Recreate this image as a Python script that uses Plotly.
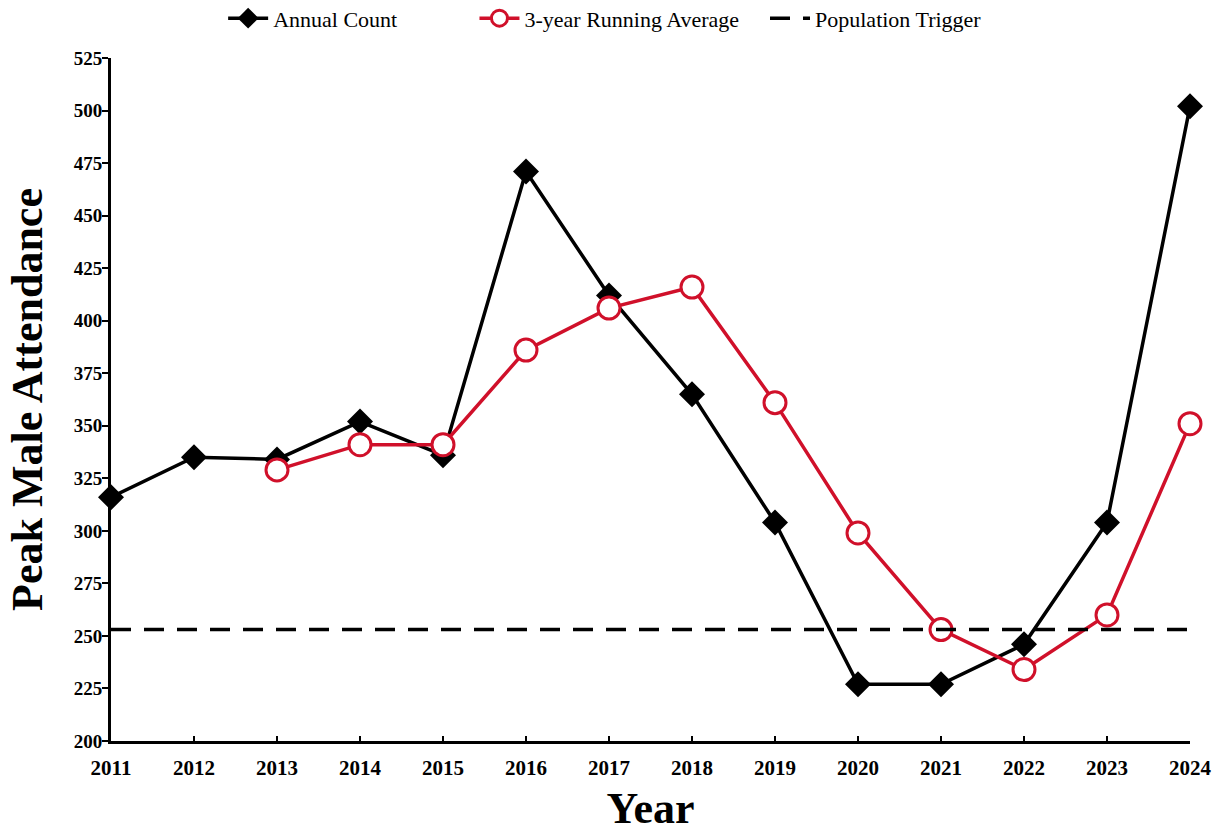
import plotly.graph_objects as go

years = list(range(2011, 2025))
annual_count = [316, 335, 334, 352, 336, 471, 412, 365, 304, 227, 227, 246, 304, 502]
avg_years = list(range(2013, 2025))
running_avg = [329, 341, 341, 386, 406, 416, 361, 299, 253, 234, 260, 351]
trigger_years = [2011, 2024]
trigger_level = [253, 253]
y_ticks = list(range(200, 526, 25))

serif = "Liberation Serif, Times New Roman, serif"

fig = go.Figure()

fig.add_trace(go.Scatter(
    x=years, y=annual_count, name="Annual Count", mode="lines+markers",
    line=dict(color="black", width=3.5),
    marker=dict(symbol="diamond", size=20, color="black"),
    cliponaxis=False, legend="legend",
))
fig.add_trace(go.Scatter(
    x=avg_years, y=running_avg, name="3-year Running Average", mode="lines+markers",
    line=dict(color="#d0102a", width=3.5),
    marker=dict(symbol="circle", size=22, color="white",
                line=dict(color="#d0102a", width=3)),
    cliponaxis=False, legend="legend2",
))
fig.add_trace(go.Scatter(
    x=trigger_years, y=trigger_level, name="Population Trigger", mode="lines",
    line=dict(color="black", width=3.5, dash="20px,13px"),
    cliponaxis=False, legend="legend3",
))

legend_common = dict(orientation="h", xanchor="left", xref="container",
                     y=0.978, yanchor="middle", yref="container",
                     font=dict(size=22, family=serif), itemwidth=40)

fig.update_layout(
    width=1226, height=833,
    margin=dict(l=111, r=36, t=58, b=92, autoexpand=False),
    paper_bgcolor="white", plot_bgcolor="white",
    font=dict(family=serif, color="black"),
    showlegend=True,
    legend=dict(x=0.182, **legend_common),
    legend2=dict(x=0.387, **legend_common),
    legend3=dict(x=0.624, **legend_common),
    xaxis=dict(
        range=[2011, 2024], tickmode="array", tickvals=years,
        ticktext=[f"<b>{y}</b>" for y in years],
        tickfont=dict(size=21, family=serif),
        showgrid=False, zeroline=False, automargin=False,
        showline=True, linecolor="black", linewidth=3,
        ticks="inside", ticklen=5, tickwidth=2, tickcolor="black",
        ticklabelstandoff=6,
        title=dict(text="<b>Year</b>", font=dict(size=44, family=serif), standoff=22),
    ),
    yaxis=dict(
        range=[200, 525], tickmode="array", tickvals=y_ticks,
        ticktext=[f"<b>{v}</b>" for v in y_ticks],
        tickfont=dict(size=19, family=serif),
        showgrid=False, zeroline=False, automargin=False,
        showline=True, linecolor="black", linewidth=3,
        ticks="outside", ticklen=6, tickwidth=2, tickcolor="black",
        ticklabelstandoff=-4,
        title=dict(text="<b>Peak Male Attendance</b>", font=dict(size=44, family=serif), standoff=18),
    ),
)

fig.write_html("out.html")
